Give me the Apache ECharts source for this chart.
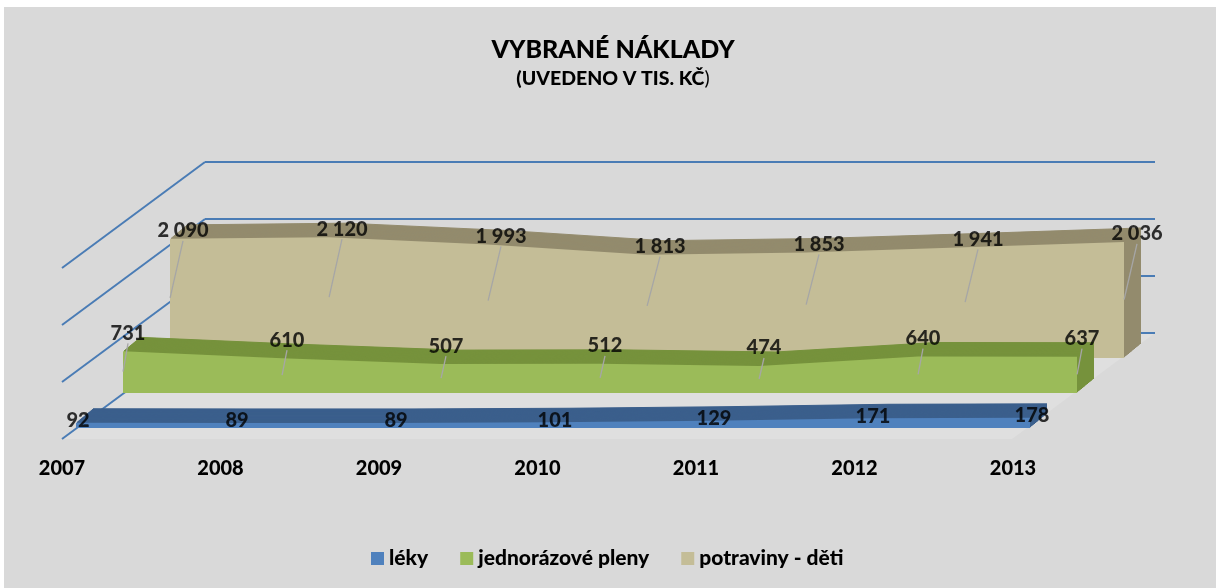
<!DOCTYPE html>
<html>
<head>
<meta charset="utf-8">
<script src="https://cdn.jsdelivr.net/npm/echarts@6/dist/echarts.min.js"></script>
<style>
  html, body { margin: 0; padding: 0; background: #fff; }
  #panel { position: absolute; left: 4px; top: 7px; width: 1212px; height: 581px; background: #d9d9d9; }
  #chart { position: absolute; left: 0; top: 0; width: 1226px; height: 588px; }
</style>
</head>
<body>
<div id="panel"></div>
<div id="chart"></div>
<script>
// data
const years = ['2007', '2008', '2009', '2010', '2011', '2012', '2013'];
const leky = [92, 89, 89, 101, 129, 171, 178];
const pleny = [731, 610, 507, 512, 474, 640, 637];
const potraviny = [2090, 2120, 1993, 1813, 1853, 1941, 2036];
const names = ['léky', 'jednorázové pleny', 'potraviny - děti'];
const wallTicks = [0, 1000, 2000, 3000];

// fake 3d layout
const FONT = 'Lato';
const BOLD = 900;
const GRID_COLOR = '#4a7cb5';
const VMAX = 3000, W = 954, H = 171;
const DEPTH = [17, -14];   // posun zadni hrany
const STEPS = 17;
const SIDE = [-143, 106];  // leva stena

// od zadu dopredu
const layers = [
  { name: names[2], data: potraviny, left: 170, bottom: 358, front: '#c4bd97', dark: '#938b6d', lab: [13, -12], lead: true },
  { name: names[1], data: pleny, left: 123, bottom: 393, front: '#9bbb59', dark: '#76923c', lab: [5, -22], lead: true },
  { name: names[0], data: leky, left: 76, bottom: 428, front: '#4f81bd', dark: '#3b5f8c', lab: [2, -2], lead: false }
];

const fmt = v => String(v).replace(/\B(?=(\d{3})+(?!\d))/g, ' ');

const chart = echarts.init(document.getElementById('chart'));

const grid = [], xAxis = [], yAxis = [], series = [];
let z = 3;

// zadni stena
grid.push({ left: 205, top: 162, width: 950, height: H });
xAxis.push({ type: 'value', gridIndex: 0, min: 0, max: 1, show: false });
yAxis.push({
  type: 'value', gridIndex: 0, min: 0, max: VMAX, interval: 1000, z: 1,
  axisLine: { show: false }, axisTick: { show: false }, axisLabel: { show: false },
  splitLine: { lineStyle: { color: GRID_COLOR, width: 2 } }
});

// osa s roky
grid.push({ left: 62, top: 400, width: 951, height: 38 });
xAxis.push({
  type: 'category', gridIndex: 1, data: years, boundaryGap: false,
  axisLine: { show: false }, axisTick: { show: false },
  axisLabel: { margin: 21, color: '#000', fontFamily: FONT, fontWeight: BOLD, fontSize: 20 }
});
yAxis.push({ type: 'value', gridIndex: 1, show: false });

layers.forEach(layer => {
  let frontGrid;
  for (let k = STEPS; k >= 0; k--) {
    const g = grid.length;
    grid.push({
      left: layer.left + DEPTH[0] * k / STEPS,
      top: layer.bottom - H + DEPTH[1] * k / STEPS,
      width: W, height: H
    });
    xAxis.push({ type: 'category', gridIndex: g, data: years, boundaryGap: false, show: false });
    yAxis.push({ type: 'value', gridIndex: g, min: 0, max: VMAX, show: false });
    const col = k > 0 ? layer.dark : layer.front;
    series.push({
      name: k === 0 ? layer.name : layer.name + '_' + k,
      type: 'line', xAxisIndex: g, yAxisIndex: g, data: layer.data,
      symbol: 'none', silent: true, z: z++,
      itemStyle: { color: col },
      lineStyle: { color: col, width: k > 0 ? 1 : 0 },
      areaStyle: { color: col, opacity: 1 }
    });
    if (k === 0) frontGrid = g;
  }
  const g = frontGrid;
  if (layer.lead) {
    series.push({
      type: 'scatter', xAxisIndex: g, yAxisIndex: g, z: 200, silent: true,
      symbolSize: 1, itemStyle: { color: 'rgba(0,0,0,0)' },
      data: layer.data.map((v, i) => [i, v / 2]),
      label: {
        show: true, position: 'inside', align: 'center', verticalAlign: 'middle',
        padding: [0, 0, 8, 0], color: '#000', fontFamily: FONT, fontWeight: BOLD, fontSize: 20,
        formatter: p => fmt(layer.data[p.dataIndex])
      },
      labelLine: { show: true, length2: 0, lineStyle: { color: '#a6a6a6', width: 1.3 } },
      labelLayout: p => {
        const pt = chart.convertToPixel({ gridIndex: g }, [p.dataIndex, layer.data[p.dataIndex]]);
        return { x: pt[0] + layer.lab[0], y: pt[1] + layer.lab[1] + 4, align: 'center', verticalAlign: 'middle' };
      }
    });
  } else {
    series.push({
      type: 'scatter', xAxisIndex: g, yAxisIndex: g, z: 200, silent: true,
      symbolSize: 1, itemStyle: { color: 'rgba(0,0,0,0)' },
      data: layer.data.map((v, i) => [i, v]),
      label: {
        show: true, position: 'inside', offset: layer.lab, color: '#000',
        fontFamily: FONT, fontWeight: BOLD, fontSize: 20, formatter: p => fmt(p.value[1])
      }
    });
  }
});

chart.setOption({
  animation: false,
  title: {
    text: 'VYBRANÉ NÁKLADY',
    subtext: '{b|(UVEDENO V TIS. KČ}{n|)}',
    left: 'center', top: 31, itemGap: 3,
    textStyle: { color: '#000', fontFamily: FONT, fontWeight: BOLD, fontSize: 25, lineHeight: 28 },
    subtextStyle: {
      lineHeight: 23,
      rich: {
        b: { color: '#000', fontFamily: FONT, fontWeight: BOLD, fontSize: 19.5 },
        n: { color: '#000', fontFamily: FONT, fontSize: 19.5 }
      }
    }
  },
  legend: {
    data: names, left: 366, top: 543, icon: 'rect', itemWidth: 13, itemHeight: 13, itemGap: 32,
    textStyle: { color: '#000', fontFamily: FONT, fontWeight: BOLD, fontSize: 21 }
  },
  grid, xAxis, yAxis, series
});

// podlaha a leva stena
const bl = chart.convertToPixel({ gridIndex: 0 }, [0, 0]);
const br = chart.convertToPixel({ gridIndex: 0 }, [1, 0]);
const graphic = [{
  type: 'polygon', z: -1, silent: true,
  shape: { points: [bl, br, [br[0] + SIDE[0], br[1] + SIDE[1]], [bl[0] + SIDE[0], bl[1] + SIDE[1]]] },
  style: { fill: '#dfdfdf' }
}];
wallTicks.forEach(v => {
  const p = chart.convertToPixel({ gridIndex: 0 }, [0, v]);
  graphic.push({
    type: 'line', z: 1, silent: true,
    shape: { x1: p[0], y1: p[1], x2: p[0] + SIDE[0], y2: p[1] + SIDE[1] },
    style: { stroke: GRID_COLOR, lineWidth: 2 }
  });
});
chart.setOption({ graphic });
</script>
</body>
</html>
